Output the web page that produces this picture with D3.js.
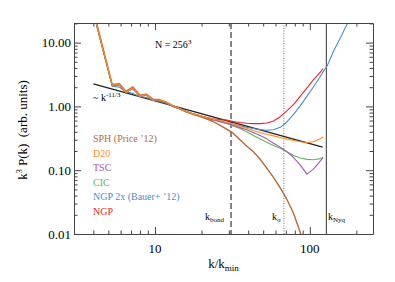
<!DOCTYPE html>
<html>
<head>
<meta charset="utf-8">
<script src="https://cdn.jsdelivr.net/npm/d3@7"></script>
<style>
  body { margin: 0; background: #fff; }
  svg text { font-family: "Liberation Serif", "DejaVu Serif", serif; }
</style>
</head>
<body>
<div id="chart"></div>
<script>
(function(){
    // data -------------------------------------------------------------
    var kBins = [4, 5.3, 5.9, 6.5, 7.2, 8, 8.8, 9.7, 10.7, 11.8, 13, 14.4, 15.9, 17.6, 19.4,
                 21.5, 23.7, 26.2, 29, 32, 35.4, 39.1, 43.2, 47.7, 52.7, 58.3, 64.4, 71.1,
                 78.6, 86.9, 96, 106, 117, 122, 130, 143, 158, 175, 193];

    var ngp    = [30, 2.1, 2.15, 1.68, 1.9, 1.45, 1.5, 1.27, 1.24, 1.15, 1.02, 0.93, 0.84, 0.77, 0.72,
                  0.675, 0.64, 0.62, 0.61, 0.58, 0.56, 0.545, 0.537, 0.537, 0.55, 0.59, 0.69, 0.85,
                  1.08, 1.45, 1.95, 2.65, 3.45, 3.9, null, null, null, null, null];
    var ngp2x  = [30, 2.08, 2.0, 1.7, 1.6, 1.42, 1.38, 1.25, 1.2, 1.12, 1.0, 0.91, 0.83, 0.76, 0.71,
                  0.665, 0.625, 0.59, 0.555, 0.525, 0.495, 0.47, 0.45, 0.432, 0.422, 0.43, 0.47, 0.57,
                  0.75, 1.03, 1.45, 2.05, 2.95, 3.5, 4.4, 7.5, 12, 20, 33];
    var cic    = [30, 2.1, 2.15, 1.68, 1.9, 1.45, 1.5, 1.26, 1.23, 1.14, 1.01, 0.92, 0.83, 0.76, 0.71,
                  0.66, 0.615, 0.575, 0.54, 0.495, 0.45, 0.4, 0.35, 0.31, 0.275, 0.245, 0.22, 0.195,
                  0.17, 0.155, 0.148, 0.146, 0.152, 0.16, null, null, null, null, null];
    var tsc    = [30, 2.1, 2.15, 1.68, 1.9, 1.45, 1.5, 1.26, 1.23, 1.14, 1.01, 0.92, 0.83, 0.76, 0.71,
                  0.66, 0.62, 0.58, 0.545, 0.505, 0.465, 0.43, 0.39, 0.35, 0.31, 0.265, 0.23, 0.195,
                  0.158, 0.12, 0.087, 0.105, 0.14, 0.157, null, null, null, null, null];
    var d20    = [31, 2.13, 2.21, 1.67, 1.96, 1.45, 1.52, 1.27, 1.26, 1.17, 1.03, 0.93, 0.84, 0.77, 0.72,
                  0.67, 0.63, 0.6, 0.565, 0.53, 0.49, 0.455, 0.42, 0.39, 0.365, 0.345, 0.325, 0.307,
                  0.292, 0.28, 0.272, 0.28, 0.31, 0.335, null, null, null, null, null];
    var sph    = [32, 2.2, 2.28, 1.72, 2.02, 1.5, 1.56, 1.3, 1.28, 1.18, 1.03, 0.92, 0.82, 0.75, 0.7,
                  0.64, 0.58, 0.51, 0.44, 0.38, 0.3, 0.24, 0.195, 0.15, 0.108, 0.077, 0.053, 0.035,
                  0.021, 0.0105, 0.0048, null, null, null, null, null, null, null, null];

    var kPow   = [4, 121];       // ~ k^-11/3 guide
    var powVal = [2.26, 0.231];

    var seriesNames  = ['SPH (Price \u201912)', 'D20', 'TSC', 'CIC', 'NGP 2x (Bauer+ \u201912)', 'NGP'];
    var seriesValues = [sph, d20, tsc, cic, ngp2x, ngp];
    var seriesColors = ['#b8693a', '#ff8c1a', '#a05ab0', '#5cb85a', '#4a8cc8', '#e8262a'];
    var drawOrder    = [5, 4, 3, 2, 0, 1];

    var kLines = [31, 68, 128];   // k_bond, k_sigma, k_Nyq

    var yTickLabels = ['0.01', '0.10', '1.00', '10.00'];
    var yTickValues = [0.01, 0.1, 1, 10];
    var xTickValues = [10, 100];

    // layout -----------------------------------------------------------
    var WIDTH  = 395,
        HEIGHT = 282,
        LEFT   = 74,
        RIGHT  = 373,
        TOP    = 23,
        BOTTOM = 234;

    var FRAME = '#444';

    var x = d3.scaleLog().domain([3, 256]).range([LEFT, RIGHT]);
    var y = d3.scaleLog().domain([0.01, 20.3]).range([BOTTOM, TOP]);

    var svg = d3.select('#chart').append('svg')
        .attr('width', WIDTH)
        .attr('height', HEIGHT);

    svg.append('clipPath').attr('id', 'plot-clip')
        .append('rect')
        .attr('x', LEFT).attr('y', TOP)
        .attr('width', RIGHT - LEFT).attr('height', BOTTOM - TOP);

    var plot = svg.append('g').attr('clip-path', 'url(#plot-clip)');

    // vertical reference lines
    var vStyles = [
        {dash: '6,3', color: '#555', width: 1.4},
        {dash: '1,1.5', color: '#777', width: 1},
        {dash: null, color: '#555', width: 1.2}
    ];
    kLines.forEach(function(k, i){
        plot.append('line')
            .attr('x1', x(k)).attr('x2', x(k))
            .attr('y1', TOP).attr('y2', BOTTOM)
            .attr('stroke', vStyles[i].color)
            .attr('stroke-width', vStyles[i].width)
            .attr('stroke-dasharray', vStyles[i].dash);
    });

    var line = d3.line()
        .defined(function(d){ return d[1] != null; })
        .x(function(d){ return x(d[0]); })
        .y(function(d){ return y(d[1]); });

    // power law guide
    plot.append('path')
        .attr('d', line(d3.zip(kPow, powVal)))
        .attr('fill', 'none')
        .attr('stroke', '#222')
        .attr('stroke-width', 1.3);

    drawOrder.forEach(function(i){
        plot.append('path')
            .attr('d', line(d3.zip(kBins, seriesValues[i])))
            .attr('fill', 'none')
            .attr('stroke', seriesColors[i])
            .attr('stroke-width', i === 0 ? 1.4 : 1.1)
            .attr('stroke-linejoin', 'round');
    });

    // AXES ------------------------------------------------------------
    function logTicks(scale){
        return scale.ticks().filter(function(t){
            var d = scale.domain();
            return t >= d[0] && t <= d[1];
        });
    }
    function isMajor(t){
        var l = Math.log10(t);
        return Math.abs(l - Math.round(l)) < 1e-6;
    }

    var xt = logTicks(x), yt = logTicks(y);

    function addAxis(axis, transform, ticks, vertical, sign){
        var g = svg.append('g')
            .attr('transform', transform)
            .call(axis.tickValues(ticks).tickFormat('').tickSizeOuter(0));
        g.select('.domain').attr('stroke', FRAME);
        g.selectAll('.tick line')
            .attr('stroke', FRAME)
            .attr(vertical ? 'x2' : 'y2', function(d){ return sign * (isMajor(d) ? 7 : 3.5); });
        return g;
    }

    addAxis(d3.axisBottom(x), 'translate(0,' + BOTTOM + ')', xt, false, -1);
    addAxis(d3.axisTop(x),    'translate(0,' + TOP + ')',    xt, false, 1);
    addAxis(d3.axisLeft(y),   'translate(' + LEFT + ',0)',   yt, true, 1);
    addAxis(d3.axisRight(y),  'translate(' + RIGHT + ',0)',  yt, true, -1);

    // tick labels
    svg.selectAll('text.ylab')
        .data(yTickValues)
        .enter().append('text')
        .attr('x', 71)
        .attr('y', function(d){ return y(d) + 4.5; })
        .attr('text-anchor', 'end')
        .attr('font-size', 13)
        .text(function(d, i){ return yTickLabels[i]; });

    svg.selectAll('text.xlab')
        .data(xTickValues)
        .enter().append('text')
        .attr('x', function(d){ return x(d); })
        .attr('y', 253)
        .attr('text-anchor', 'middle')
        .attr('font-size', 13)
        .text(function(d){ return d; });

    // axis titles
    var xt1 = svg.append('text')
        .attr('x', (LEFT + RIGHT) / 2)
        .attr('y', 268)
        .attr('text-anchor', 'middle')
        .attr('font-size', 13);
    xt1.append('tspan').text('k/k');
    xt1.append('tspan').attr('font-size', 9).attr('dy', 3).text('min');

    var yt1 = svg.append('text')
        .attr('transform', 'translate(27,' + 130 + ') rotate(-90)')
        .attr('text-anchor', 'middle')
        .attr('font-size', 13);
    yt1.append('tspan').text('k');
    yt1.append('tspan').attr('font-size', 8).attr('dy', -5).text('3');
    yt1.append('tspan').attr('dy', 5).text(' P(k)\u00a0\u00a0(arb. units)');

    // legend
    svg.selectAll('text.legend')
        .data(seriesNames)
        .enter().append('text')
        .attr('x', 93)
        .attr('y', function(d, i){ return 142 + i * 14.6; })
        .attr('font-size', 10)
        .attr('fill', function(d, i){ return seriesColors[i]; })
        .text(function(d){ return d; });

    // annotations
    var nt = svg.append('text').attr('x', 155).attr('y', 48).attr('font-size', 10);
    nt.append('tspan').text('N = 256');
    nt.append('tspan').attr('font-size', 7).attr('dy', -4).text('3');

    var pt = svg.append('text').attr('x', 93).attr('y', 101).attr('font-size', 10);
    pt.append('tspan').text('~ k');
    pt.append('tspan').attr('font-size', 7).attr('dy', -4).text('-11/3');

    var kLabels = [['k', 'bond', 205], ['k', '\u03c3', 272], ['k', 'Nyq', 328]];
    kLabels.forEach(function(l){
        var t = svg.append('text').attr('x', l[2]).attr('y', 220).attr('font-size', 10);
        t.append('tspan').text(l[0]);
        t.append('tspan').attr('font-size', 7).attr('dy', 2).text(l[1]);
    });
})();
</script>
</body>
</html>
